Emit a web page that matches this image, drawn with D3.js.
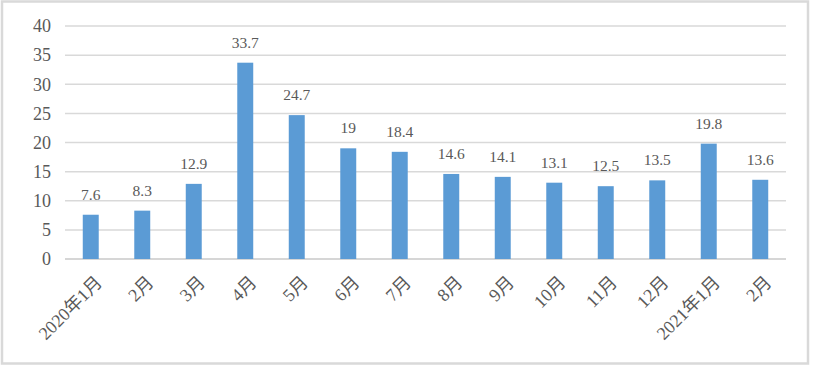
<!DOCTYPE html>
<html>
<head>
<meta charset="utf-8">
<script src="https://cdn.jsdelivr.net/npm/d3@7"></script>
<style>
  body { margin: 0; background: #fff; }
  text { font-family: "Liberation Serif", "Times New Roman", "Noto Sans CJK SC", serif; fill: #595959; }
</style>
</head>
<body>
<div id="chart"></div>
<script>
var width = 813,
    height = 366;

var months = ['2020年1月', '2月', '3月', '4月', '5月', '6月', '7月', '8月', '9月', '10月', '11月', '12月', '2021年1月', '2月'];
var values = [7.6, 8.3, 12.9, 33.7, 24.7, 19, 18.4, 14.6, 14.1, 13.1, 12.5, 13.5, 19.8, 13.6];
var yTicks = [0, 5, 10, 15, 20, 25, 30, 35, 40];

var margin = {left: 65, right: 27, top: 26, bottom: 107};

var svg = d3.select('#chart')
    .append('svg')
    .attr('width', width)
    .attr('height', height);

svg.append('rect')
    .attr('x', 2)
    .attr('y', 1.5)
    .attr('width', 806)
    .attr('height', 362)
    .attr('fill', '#fff')
    .attr('stroke', '#d9d9d9')
    .attr('stroke-width', 2.5);

// keep index in the key, two categories share the label '2月'
var x = d3.scaleBand()
    .domain(d3.range(months.length))
    .range([margin.left, width - margin.right])
    .paddingInner(0.69)
    .paddingOuter(0.345);

var y = d3.scaleLinear()
    .domain([0, 40])
    .range([height - margin.bottom, margin.top]);

// gridlines
svg.append('g')
    .selectAll('line')
    .data(yTicks)
    .enter()
    .append('line')
    .attr('x1', margin.left)
    .attr('x2', width - margin.right)
    .attr('y1', d => y(d))
    .attr('y2', d => y(d))
    .attr('stroke', d => d === 0 ? '#c8c8c8' : '#d9d9d9')
    .attr('stroke-width', 1.5);

var yAxis = svg.append('g')
    .attr('transform', 'translate(' + (margin.left - 14) + ',0)')
    .call(d3.axisLeft(y).tickValues(yTicks).tickSize(0).tickPadding(0));
yAxis.select('.domain').remove();
yAxis.selectAll('text')
    .style('font-size', '18px')
    .attr('fill', '#595959');

svg.append('g')
    .selectAll('rect')
    .data(values)
    .enter()
    .append('rect')
    .attr('x', (d, i) => x(i))
    .attr('width', x.bandwidth())
    .attr('y', d => y(d))
    .attr('height', d => y(0) - y(d))
    .attr('fill', '#5b9bd5');

svg.append('g')
    .selectAll('text')
    .data(values)
    .enter()
    .append('text')
    .attr('x', (d, i) => x(i) + x.bandwidth() / 2)
    .attr('y', d => y(d) - 15)
    .attr('text-anchor', 'middle')
    .style('font-size', '15.5px')
    .text(d => d);

svg.append('g')
    .selectAll('text')
    .data(months)
    .enter()
    .append('text')
    .attr('transform', (d, i) => 'translate(' + (x(i) + x.bandwidth() / 2 + 8) + ',' + (y(0) + 20) + ') rotate(-45)')
    .attr('text-anchor', 'end')
    .attr('dy', '0.35em')
    .style('font-size', '18px')
    .text(d => d);
</script>
</body>
</html>
